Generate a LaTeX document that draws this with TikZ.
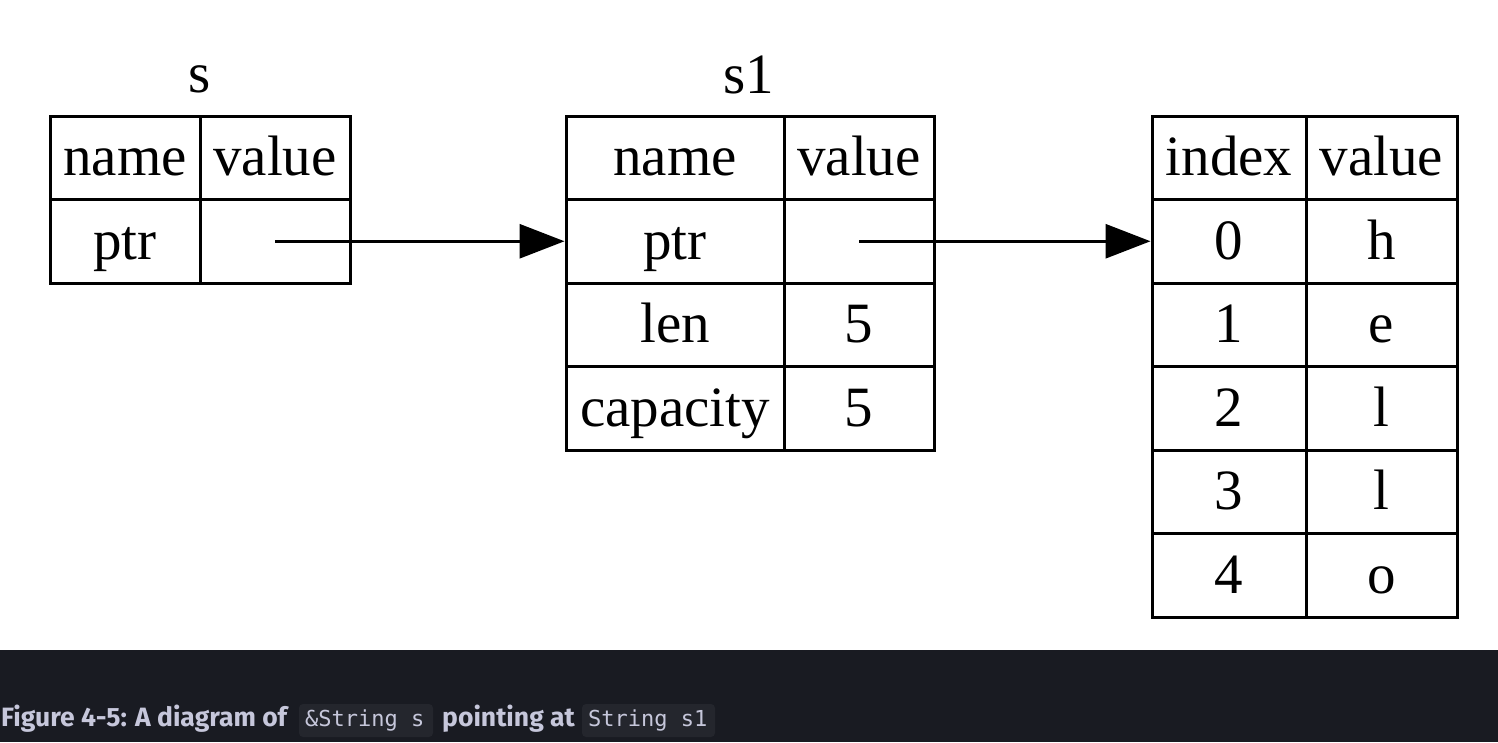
\documentclass[tikz,border=0pt]{standalone}
\usepackage{fontspec}
\setmainfont{Liberation Serif}
\newfontfamily\capfont{Fira Sans}
\newfontfamily\codefont{DejaVu Sans Mono}
\usetikzlibrary{arrows.meta}
\definecolor{barbg}{HTML}{191B22}
\definecolor{codebg}{HTML}{24262D}
\definecolor{captext}{HTML}{C6C7DB}
\begin{document}
\begin{tikzpicture}[x=1pt,y=-1pt,
  cell/.style={draw, line width=3pt, inner sep=0pt, minimum height=83.5pt,
    text height=50pt, text depth=14pt, font=\fontsize{57}{60}\selectfont},
  lbl/.style={anchor=base, inner sep=0pt, font=\fontsize{57}{60}\selectfont},
  ptrarrow/.style={line width=3pt, -{Triangle[length=45pt,width=34pt]}},
  captxt/.style={anchor=base west, inner sep=0pt, text=captext, font=\capfont\bfseries\fontsize{26.5}{30}\selectfont},
  codetxt/.style={anchor=base west, inner sep=0pt, text=captext, font=\codefont\fontsize{22}{26}\selectfont},
  codebox/.style={fill=codebg, rounded corners=4pt}]
\useasboundingbox (0,0) rectangle (1498,742);
% table s
\node[lbl] (slabel) at (200,92) {s};
\node[cell, minimum width=150pt] (sh1) at (125,157.75) {name};
\node[cell, minimum width=150pt] (sh2) at (275,157.75) {value};
\node[cell, minimum width=150pt] (sn) at (125,241.25) {ptr};
\node[cell, minimum width=150pt] (sv) at (275,241.25) {};
% table s1
\node[lbl] (s1label) at (749,93) {s1};
\node[cell, minimum width=218pt] (ah1) at (675,157.75) {name};
\node[cell, minimum width=150pt] (ah2) at (859,157.75) {value};
\node[cell, minimum width=218pt] (an1) at (675,241.25) {ptr};
\node[cell, minimum width=150pt] (av1) at (859,241.25) {};
\node[cell, minimum width=218pt] (an2) at (675,324.75) {len};
\node[cell, minimum width=150pt] (av2) at (859,324.75) {5};
\node[cell, minimum width=218pt] (an3) at (675,408.25) {capacity};
\node[cell, minimum width=150pt] (av3) at (859,408.25) {5};
% heap table
\node[cell, minimum width=154pt] (bh1) at (1229,157.75) {index};
\node[cell, minimum width=151pt] (bh2) at (1381.5,157.75) {value};
\node[cell, minimum width=154pt] (bi0) at (1229,241.25) {0};
\node[cell, minimum width=151pt] (bv0) at (1381.5,241.25) {h};
\node[cell, minimum width=154pt] (bi1) at (1229,324.75) {1};
\node[cell, minimum width=151pt] (bv1) at (1381.5,324.75) {e};
\node[cell, minimum width=154pt] (bi2) at (1229,408.25) {2};
\node[cell, minimum width=151pt] (bv2) at (1381.5,408.25) {l};
\node[cell, minimum width=154pt] (bi3) at (1229,491.75) {3};
\node[cell, minimum width=151pt] (bv3) at (1381.5,491.75) {l};
\node[cell, minimum width=154pt] (bi4) at (1229,575.25) {4};
\node[cell, minimum width=151pt] (bv4) at (1381.5,575.25) {o};
% arrows
\draw[ptrarrow] (sv.center) -- (an1.west);
\draw[ptrarrow] (av1.center) -- (bi0.west);
% caption bar
\fill[barbg] (0,650) rectangle (1498,742);
\fill[codebox] (299,704) rectangle (433,737);
\fill[codebox] (582,704) rectangle (715,737);
\node[captxt] (cap1) at (1,726) {Figure 4-5: A diagram of};
\node[codetxt] (code1) at (305,726) {\&String s};
\node[captxt] (cap2) at (442,726) {pointing at};
\node[codetxt] (code2) at (588,726) {String s1};
\end{tikzpicture}
\end{document}
